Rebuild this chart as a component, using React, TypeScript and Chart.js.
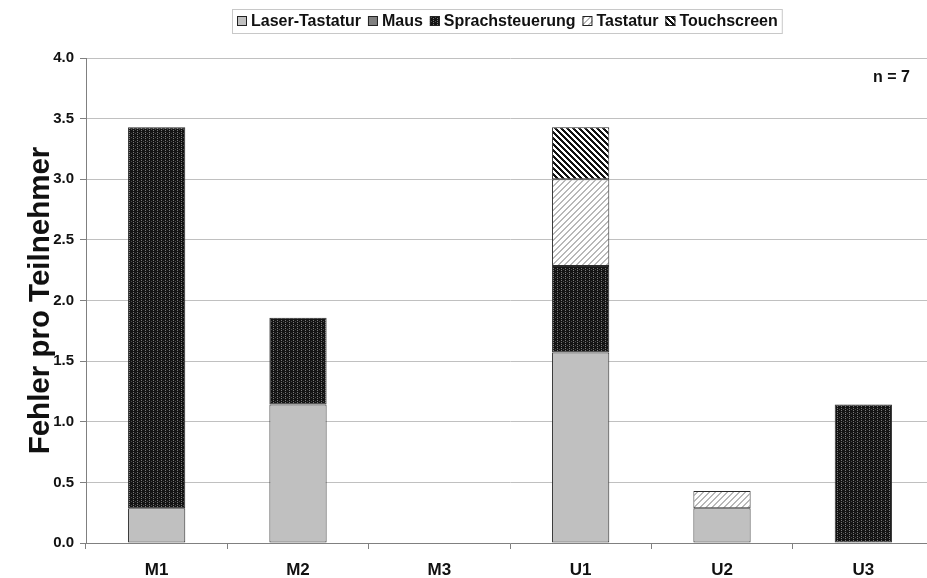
import React, { useEffect, useRef } from 'react';
import { Chart, registerables } from 'chart.js';
Chart.register(...registerables);

const categories = ['M1', 'M2', 'M3', 'U1', 'U2', 'U3'];
const laserTastatur = [0.286, 1.143, 0, 1.571, 0.286, 0];
const maus = [0, 0, 0, 0, 0, 0];
const sprachsteuerung = [3.143, 0.714, 0, 0.714, 0, 1.143];
const tastatur = [0, 0, 0, 0.714, 0.143, 0];
const touchscreen = [0, 0, 0, 0.429, 0, 0];
const seriesNames = ['Laser-Tastatur', 'Maus', 'Sprachsteuerung', 'Tastatur', 'Touchscreen'];
const yTickValues = [0, 0.5, 1, 1.5, 2, 2.5, 3, 3.5, 4];
const yTitle = 'Fehler pro Teilnehmer';
const noteText = 'n = 7';

const FONT = 'Arial, "Liberation Sans", sans-serif';

function makePattern(w: number, h: number, bg: string, fg: string, test: (x: number, y: number) => boolean | string) {
  const c = document.createElement('canvas');
  c.width = w;
  c.height = h;
  const g = c.getContext('2d')!;
  g.fillStyle = bg;
  g.fillRect(0, 0, w, h);
  for (let y = 0; y < h; y++) {
    for (let x = 0; x < w; x++) {
      const r = test(x, y);
      if (r) {
        g.fillStyle = typeof r === 'string' ? r : fg;
        g.fillRect(x, y, 1, 1);
      }
    }
  }
  return g.createPattern(c, 'repeat')!;
}

export default function App() {
  const ref = useRef<HTMLCanvasElement>(null);
  useEffect(() => {
    document.body.style.margin = '0';
    const sprachPat = makePattern(4, 4, '#141414', '#777777', (x, y) =>
      (x === 1 && (y === 0 || y === 2)) ? '#7a7a7a' : (x === 3 && y === 1) ? '#4a4a4a' : false);
    const tastPat = makePattern(6, 6, '#ffffff', '#b8b8b8', (x, y) => ((x + y) % 6) < 2);
    const touchPat = makePattern(6, 6, '#ffffff', '#111111', (x, y) => ((((x - y) % 6) + 6) % 6) < 3);
    const fills = ['#c0c0c0', '#808080', sprachPat, tastPat, touchPat];
    const values = [laserTastatur, maus, sprachsteuerung, tastatur, touchscreen];

    const legendPlugin = {
      id: 'customLegend',
      afterDraw(chart: any) {
        const ctx = chart.ctx as CanvasRenderingContext2D;
        ctx.save();
        ctx.font = `bold 16px ${FONT}`;
        const box = 10, gapText = 4, gapItem = 7;
        const widths = seriesNames.map((n) => box + gapText + ctx.measureText(n).width);
        const total = widths.reduce((a, b) => a + b, 0) + gapItem * (seriesNames.length - 1);
        const cx = 507.5;
        const x0 = Math.round(cx - total / 2);
        const yMid = 21;
        ctx.strokeStyle = '#c8c8c8';
        ctx.lineWidth = 1;
        ctx.strokeRect(x0 - 4.5, 9.5, total + 9, 24);
        let x = x0;
        seriesNames.forEach((n, i) => {
          ctx.fillStyle = fills[i] as any;
          ctx.fillRect(x, yMid - 5, box, box);
          ctx.strokeStyle = '#222';
          ctx.strokeRect(x + 0.5, yMid - 4.5, box - 1, box - 1);
          ctx.fillStyle = '#111';
          ctx.textBaseline = 'middle';
          ctx.textAlign = 'left';
          ctx.fillText(n, x + box + gapText, yMid + 1);
          x += widths[i] + gapItem;
        });
        ctx.font = `bold 16px ${FONT}`;
        ctx.textAlign = 'right';
        ctx.textBaseline = 'middle';
        ctx.fillText(noteText, 910, 78);
        ctx.restore();
      },
    };

    const chart = new Chart(ref.current!, {
      type: 'bar',
      data: {
        labels: categories,
        datasets: seriesNames.map((name, i) => ({
          label: name,
          data: values[i],
          backgroundColor: fills[i] as any,
          borderColor: '#2a2a2a',
          borderWidth: (c: any) => (c.raw ? 1 : 0),
          borderSkipped: false,
          barPercentage: 0.405,
          categoryPercentage: 1,
        })),
      },
      options: {
        animation: false,
        responsive: false,
        maintainAspectRatio: false,
        layout: { padding: { top: 58, right: 0, left: 0, bottom: 0 } },
        plugins: { legend: { display: false }, tooltip: { enabled: false } },
        scales: {
          x: {
            stacked: true,
            grid: { display: true, offset: true, drawOnChartArea: false, drawTicks: true, tickLength: 6, tickColor: '#808080' },
            border: { color: '#808080' },
            ticks: { color: '#111', font: { family: FONT, size: 17, weight: 'bold' }, padding: 11 },
            afterFit: (s: any) => { s.height = 35; },
          },
          y: {
            stacked: true,
            min: 0,
            max: 4,
            afterBuildTicks: (s: any) => { s.ticks = yTickValues.map((v) => ({ value: v })); },
            grid: { color: '#c0c0c0', tickColor: '#808080', tickLength: 6 },
            border: { color: '#808080' },
            ticks: {
              color: '#111',
              font: { family: FONT, size: 15, weight: 'bold' },
              padding: 6,
              callback: (v: any) => Number(v).toFixed(1),
            },
            title: {
              display: true,
              text: yTitle,
              color: '#111',
              font: { family: FONT, size: 29.5, weight: 'bold' },
              padding: { top: 23, bottom: 0 },
            },
            afterFit: (s: any) => { s.width = 86; },
          },
        },
      },
      plugins: [legendPlugin],
    });
    return () => chart.destroy();
  }, []);
  return (
    <div style={{ width: 927, height: 578, overflow: 'hidden' }}>
      <canvas ref={ref} width={934} height={578} style={{ display: 'block' }} />
    </div>
  );
}
